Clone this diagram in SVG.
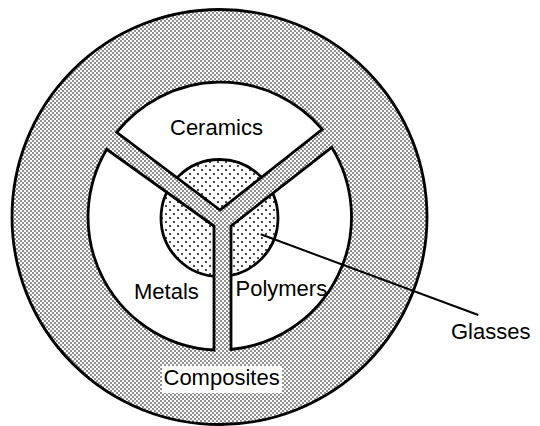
<svg xmlns="http://www.w3.org/2000/svg" width="540" height="426" viewBox="0 0 540 426">
  <defs>
    <pattern id="dense" width="4" height="4" patternUnits="userSpaceOnUse">
      <rect width="4" height="4" fill="#ffffff"/>
      <circle cx="1" cy="1" r="0.8" fill="#000"/>
      <circle cx="3" cy="3" r="0.8" fill="#000"/>
    </pattern>
    <pattern id="sparse" width="8" height="8" patternUnits="userSpaceOnUse">
      <rect width="8" height="8" fill="#ffffff"/>
      <circle cx="2" cy="2" r="0.95" fill="#000"/>
      <circle cx="6" cy="6" r="0.95" fill="#000"/>
    </pattern>
    <clipPath id="sectors">
      <path d="M116.7,132.3 A133,133 0 0 1 322.3,129.3 L220,210 Z"/>
      <path d="M214,226 L106.7,149.3 A133,133 0 0 0 214,350 Z"/>
      <path d="M231,226 L331.7,147.3 A133,133 0 0 1 231,349.5 Z"/>
    </clipPath>
  </defs>
  <style>
    .outline { stroke: #000; stroke-width: 2.8; stroke-linejoin: miter; }
    .sector { fill: #ffffff; }
    .edge { fill: none; stroke: #000; stroke-width: 2.8; stroke-linejoin: miter; }
    .label { font-family: "Liberation Sans", Arial, sans-serif; font-size: 22px; fill: #000; }
    .leader { stroke: #000; stroke-width: 2; fill: none; }
  </style>
  <rect width="540" height="426" fill="#ffffff"/>

  <g id="composites">
    <circle cx="219.5" cy="217" r="207.5" fill="url(#dense)" class="outline"/>
  </g>

  <g id="ceramics">
    <path class="sector" d="M116.7,132.3 A133,133 0 0 1 322.3,129.3 L220,210 Z"/>
  </g>
  <g id="metals">
    <path class="sector" d="M214,226 L106.7,149.3 A133,133 0 0 0 214,350 Z"/>
  </g>
  <g id="polymers">
    <path class="sector" d="M231,226 L331.7,147.3 A133,133 0 0 1 231,349.5 Z"/>
  </g>

  <g id="glasses">
    <circle cx="219.5" cy="218" r="58.5" fill="url(#sparse)" class="outline" clip-path="url(#sectors)"/>
  </g>

  <g id="sector-edges">
    <path class="edge" d="M116.7,132.3 A133,133 0 0 1 322.3,129.3 L220,210 Z"/>
    <path class="edge" d="M214,226 L106.7,149.3 A133,133 0 0 0 214,350 Z"/>
    <path class="edge" d="M231,226 L331.7,147.3 A133,133 0 0 1 231,349.5 Z"/>
  </g>

  <g id="connectors">
    <line class="leader" x1="260.7" y1="234.3" x2="478.3" y2="315"/>
  </g>

  <g id="labels">
    <text class="label" x="170" y="135">Ceramics</text>
    <text class="label" x="134" y="299">Metals</text>
    <text class="label" x="235.5" y="296">Polymers</text>
    <text class="label" x="451" y="339">Glasses</text>
    <rect x="162" y="366" width="120" height="27" fill="#ffffff"/>
    <text class="label" x="163.5" y="385">Composites</text>
  </g>
</svg>
